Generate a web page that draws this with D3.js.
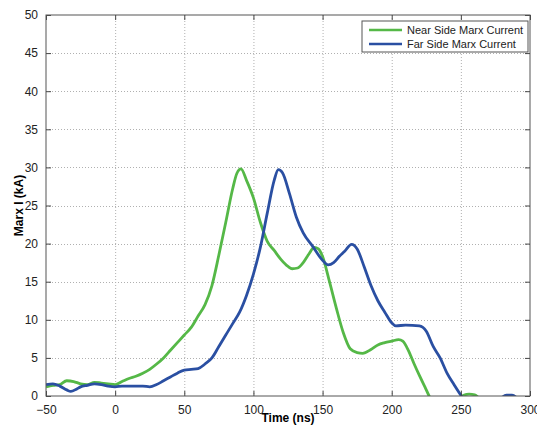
<!DOCTYPE html>
<html>
<head>
<meta charset="utf-8">
<script src="https://cdn.jsdelivr.net/npm/d3@7"></script>
<style>
  body { margin: 0; background: #fff; }
  svg text { font-family: 'Liberation Sans', Arial, sans-serif; }
  .grid line { stroke: #b0b0b0; stroke-dasharray: 1,2; }
</style>
</head>
<body>
<div id="chart"></div>
<script>
// Time in ns, current in kA
const nearTime = [-50, -45, -40, -35, -30, -25, -20, -15, -10, -5, 0, 5, 10, 15, 20, 25, 30, 35, 40, 45, 50, 55, 60, 65, 70, 75, 80, 85, 88, 91, 95, 100, 105, 110, 115, 120, 125, 128, 132, 136, 140, 144, 147, 150, 155, 160, 165, 170, 175, 179, 185, 190, 195, 200, 205, 208, 212, 216, 220, 224, 228, 235, 245, 252, 256, 260, 264, 275]
const nearCurrent = [1.2, 1.4, 1.5, 2.0, 1.9, 1.6, 1.5, 1.8, 1.7, 1.6, 1.5, 1.9, 2.3, 2.6, 3.0, 3.5, 4.2, 5.0, 6.0, 7.0, 8.0, 9.0, 10.5, 12.0, 14.5, 18.5, 22.8, 27.2, 29.2, 29.8, 28.3, 26.0, 22.8, 20.3, 19.1, 17.9, 17.0, 16.7, 16.8, 17.5, 18.6, 19.5, 19.3, 18.3, 15.0, 11.5, 8.3, 6.2, 5.7, 5.6, 6.1, 6.7, 7.0, 7.2, 7.4, 7.2, 6.0, 4.3, 2.7, 1.2, -0.3, -1.2, -1.0, 0.1, 0.25, 0.15, -0.4, -1.2]
const farTime = [-50, -45, -40, -35, -32, -28, -25, -20, -15, -10, -5, 0, 5, 10, 15, 20, 25, 30, 35, 40, 45, 50, 55, 60, 65, 70, 75, 80, 85, 90, 95, 100, 105, 110, 115, 118, 121, 126, 131, 136, 143, 150, 154, 158, 162, 166, 171, 175, 180, 185, 190, 195, 200, 203, 210, 220, 225, 230, 235, 240, 245, 250, 253, 265, 278, 283, 287, 292]
const farCurrent = [1.5, 1.6, 1.3, 0.8, 0.6, 0.9, 1.2, 1.4, 1.6, 1.5, 1.3, 1.2, 1.3, 1.3, 1.3, 1.3, 1.2, 1.5, 2.0, 2.5, 3.0, 3.4, 3.5, 3.6, 4.2, 5.0, 6.5, 8.0, 9.5, 11.0, 13.2, 16.0, 19.5, 24.0, 28.3, 29.7, 29.3, 26.6, 23.5, 21.4, 19.6, 17.8, 17.2, 17.5, 18.3, 19.0, 19.9, 19.3, 17.0, 14.5, 12.5, 11.0, 9.6, 9.2, 9.3, 9.2, 8.5, 6.5, 5.0, 3.0, 1.5, 0.1, -0.6, -1.5, -0.4, 0.1, 0.1, -0.5]

const seriesNames = ['Near Side Marx Current', 'Far Side Marx Current']
const seriesColors = ['#55b847', '#2a4fa2']
const xTicks = [-50, 0, 50, 100, 150, 200, 250, 300]
const yTicks = [0, 5, 10, 15, 20, 25, 30, 35, 40, 45, 50]

const width = 537
const height = 425
const margin = { top: 15, right: 7, bottom: 29, left: 46 }
const w = width - margin.left - margin.right
const h = height - margin.top - margin.bottom

const svg = d3.select('#chart').append('svg')
  .attr('width', width)
  .attr('height', height)
const g = svg.append('g')
  .attr('transform', `translate(${margin.left},${margin.top})`)

const x = d3.scaleLinear().domain([-50, 300]).range([0, w])
const y = d3.scaleLinear().domain([0, 50]).range([h, 0])

// Dotted grid
const grid = g.append('g').attr('class', 'grid')
grid.selectAll('.vx').data(xTicks.slice(1, -1)).enter().append('line')
  .attr('x1', d => x(d) + 0.5).attr('x2', d => x(d) + 0.5)
  .attr('y1', 0).attr('y2', h)
grid.selectAll('.hy').data(yTicks.slice(1, -1)).enter().append('line')
  .attr('y1', d => Math.round(y(d)) + 0.5).attr('y2', d => Math.round(y(d)) + 0.5)
  .attr('x1', 0).attr('x2', w)

// Lines, clipped to the axes box
g.append('clipPath').attr('id', 'clip')
  .append('rect').attr('width', w).attr('height', h)
const line = d3.line().x(d => x(d[0])).y(d => y(d[1])).curve(d3.curveMonotoneX)
const series = [
  d3.zip(nearTime, nearCurrent),
  d3.zip(farTime, farCurrent)
]
g.append('g').attr('clip-path', 'url(#clip)')
  .selectAll('path').data(series).enter().append('path')
  .attr('d', line)
  .attr('fill', 'none')
  .attr('stroke', (d, i) => seriesColors[i])
  .attr('stroke-width', 2.8)
  .attr('stroke-linejoin', 'round')

// Axes: ticks inward on all four sides
const tickStyle = sel => {
  sel.select('.domain').remove()
  sel.selectAll('line').attr('stroke', '#444')
  sel.selectAll('text').attr('fill', '#222').style('font-size', '12px')
}
g.append('g').attr('transform', `translate(0,${h})`)
  .call(d3.axisBottom(x).tickValues(xTicks).tickSizeInner(-5).tickSizeOuter(0).tickPadding(9))
  .call(tickStyle)
g.append('g')
  .call(d3.axisTop(x).tickValues(xTicks).tickSizeInner(-5).tickSizeOuter(0).tickFormat(''))
  .call(tickStyle)
g.append('g')
  .call(d3.axisLeft(y).tickValues(yTicks).tickSizeInner(-5).tickSizeOuter(0).tickPadding(8))
  .call(tickStyle)
g.append('g').attr('transform', `translate(${w},0)`)
  .call(d3.axisRight(y).tickValues(yTicks).tickSizeInner(-5).tickSizeOuter(0).tickFormat(''))
  .call(tickStyle)

// Box
g.append('rect').attr('width', w).attr('height', h)
  .attr('fill', 'none').attr('stroke', '#555').attr('stroke-width', 1)

// Axis labels
g.append('text')
  .attr('x', w / 2).attr('y', h + 26)
  .attr('text-anchor', 'middle')
  .style('font-size', '12px').style('font-weight', 'bold')
  .text('Time (ns)')
g.append('text')
  .attr('transform', `translate(${-23},${h / 2}) rotate(-90)`)
  .attr('text-anchor', 'middle')
  .style('font-size', '12px').style('font-weight', 'bold')
  .text('Marx I (kA)')

// Legend
const legend = g.append('g').attr('transform', `translate(${w - 168},6)`)
legend.append('rect')
  .attr('width', 166).attr('height', 31)
  .attr('fill', '#fff').attr('stroke', '#555')
seriesNames.forEach((name, i) => {
  const row = legend.append('g').attr('transform', `translate(0,${9 + i * 14})`)
  row.append('line').attr('x1', 7).attr('x2', 40)
    .attr('stroke', seriesColors[i]).attr('stroke-width', 2.5)
  row.append('text').attr('x', 45).attr('dy', '0.35em')
    .style('font-size', '11px').attr('fill', '#222')
    .text(name)
})
</script>
</body>
</html>
